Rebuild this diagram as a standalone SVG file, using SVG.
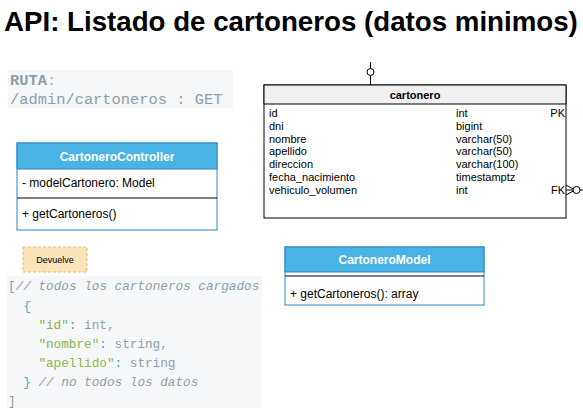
<svg xmlns="http://www.w3.org/2000/svg" width="583" height="420" viewBox="0 0 583 420">
<style>
.sans{font-family:"Liberation Sans",Arial,sans-serif}
.mono{font-family:"Liberation Mono","DejaVu Sans Mono",monospace;font-size:12.7px}
.big{font-size:15.4px}
.cm{fill:#8d9ea9;font-style:italic}
.gr{fill:#8d9ea9}
.tl{fill:#3fb0c0}
.st{fill:#8ab64b}
.tb{font-family:"Liberation Sans",Arial,sans-serif;font-size:11px;fill:#000}
.cls{fill:#fff;stroke:#2b86c5;stroke-width:1}
.hdr{fill:#4ab3e6;stroke:#2b86c5;stroke-width:1}
.ln{stroke:#000;stroke-width:1;fill:none}
</style>
<rect width="583" height="420" fill="#fff"/>
<text class="sans" x="4" y="31" font-size="27.7" font-weight="bold" fill="#000">API: Listado de cartoneros (datos minimos)</text>

<g id="ruta">
<rect x="8" y="70" width="225" height="38" fill="#f6f7f8"/>
<text class="mono big" x="10" y="85"><tspan class="gr" font-weight="bold">RUTA</tspan><tspan fill="#a9b6be">:</tspan></text>
<text class="mono big gr" x="10" y="104">/admin/cartoneros : GET</text>
</g>

<g id="cartonero">
<rect x="264" y="85" width="302" height="133" fill="#fff" stroke="#000"/>
<rect x="264" y="85" width="302" height="19" fill="#f0f0f0" stroke="#000"/>
<text class="tb" x="415" y="99" text-anchor="middle" font-weight="bold">cartonero</text>
<text class="tb" x="269" y="117">id</text>
<text class="tb" x="269" y="130">dni</text>
<text class="tb" x="269" y="142.5">nombre</text>
<text class="tb" x="269" y="155">apellido</text>
<text class="tb" x="269" y="168">direccion</text>
<text class="tb" x="269" y="181">fecha_nacimiento</text>
<text class="tb" x="269" y="193.5">vehiculo_volumen</text>
<text class="tb" x="456" y="117">int</text>
<text class="tb" x="456" y="130">bigint</text>
<text class="tb" x="456" y="142.5">varchar(50)</text>
<text class="tb" x="456" y="155">varchar(50)</text>
<text class="tb" x="456" y="168">varchar(100)</text>
<text class="tb" x="456" y="181">timestamptz</text>
<text class="tb" x="456" y="193.5">int</text>
<text class="tb" x="565" y="117" text-anchor="end">PK</text>
<text class="tb" x="565" y="193.5" text-anchor="end">FK</text>
</g>

<g id="controller">
<rect class="cls" x="17" y="143" width="200" height="87"/>
<rect class="hdr" x="17" y="143" width="200" height="26"/>
<text class="sans" x="117" y="160.5" text-anchor="middle" font-size="12" font-weight="bold" fill="#fff">CartoneroController</text>
<text class="sans" x="22" y="187" font-size="12" fill="#000">- modelCartonero: Model</text>
<line x1="17" y1="198" x2="217" y2="198" class="ln"/>
<text class="sans" x="22" y="218" font-size="12" fill="#000">+ getCartoneros()</text>
</g>

<g id="model">
<rect class="cls" x="285" y="247" width="199" height="58"/>
<rect class="hdr" x="285" y="247" width="199" height="25"/>
<text class="sans" x="384.5" y="264" text-anchor="middle" font-size="12" font-weight="bold" fill="#fff">CartoneroModel</text>
<line x1="285" y1="276" x2="484" y2="276" class="ln"/>
<text class="sans" x="290" y="298" font-size="12" fill="#000">+ getCartoneros(): array</text>
</g>

<g id="devuelve">
<rect x="23" y="247" width="64" height="25" fill="#fbe4b9" stroke="#e8b96a" stroke-dasharray="3 2"/>
<text class="sans" x="55" y="263" text-anchor="middle" font-size="9" fill="#000">Devuelve</text>
</g>

<g id="codigo">
<rect x="7" y="276" width="255" height="132" fill="#f6f7f8"/>
<text class="mono" x="8" y="290"><tspan class="gr">[</tspan><tspan class="cm">// todos los cartoneros cargados</tspan></text>
<text class="mono tl" x="23.2" y="309.5">{</text>
<text class="mono" x="38.4" y="328.5"><tspan class="st">"id"</tspan><tspan class="tl">:</tspan><tspan class="gr"> int,</tspan></text>
<text class="mono" x="38.4" y="347.5"><tspan class="st">"nombre"</tspan><tspan class="tl">:</tspan><tspan class="gr"> string,</tspan></text>
<text class="mono" x="38.4" y="366.5"><tspan class="st">"apellido"</tspan><tspan class="tl">:</tspan><tspan class="gr"> string</tspan></text>
<text class="mono" x="23.2" y="385.5"><tspan class="tl">}</tspan><tspan class="cm"> // no todos los datos</tspan></text>
<text class="mono gr" x="8" y="404.5">]</text>
</g>

<g id="connectors" fill="none" stroke="#000" stroke-width="1">
<line x1="370.5" y1="62" x2="370.5" y2="85"/>
<circle cx="370.5" cy="72" r="3.5" fill="#fff"/>
<path d="M566 185 L575 190 L566 195 M566 190 L583 190"/>
<circle cx="576.5" cy="190" r="3.5" fill="#fff"/>
</g>
</svg>
